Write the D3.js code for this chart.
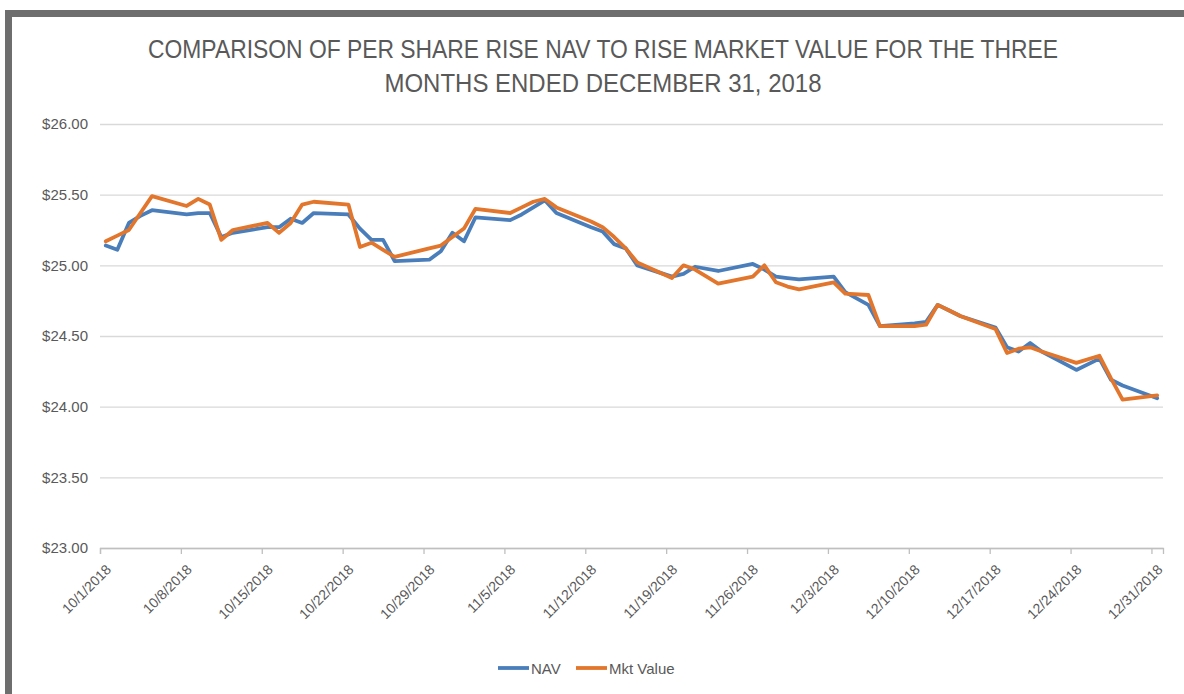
<!DOCTYPE html>
<html><head><meta charset="utf-8">
<script src="https://cdn.jsdelivr.net/npm/d3@7"></script>
<style>body{margin:0;background:#fff} svg{display:block}</style>
</head><body><svg id="c" width="1184" height="694"></svg>
<script>
const dates = [
"2018-10-01","2018-10-02","2018-10-03","2018-10-04","2018-10-05",
"2018-10-08","2018-10-09","2018-10-10","2018-10-11","2018-10-12",
"2018-10-15","2018-10-16","2018-10-17","2018-10-18","2018-10-19",
"2018-10-22","2018-10-23","2018-10-24","2018-10-25","2018-10-26",
"2018-10-29","2018-10-30","2018-10-31","2018-11-01","2018-11-02",
"2018-11-05","2018-11-06","2018-11-07","2018-11-08","2018-11-09",
"2018-11-12","2018-11-13","2018-11-14","2018-11-15","2018-11-16",
"2018-11-19","2018-11-20","2018-11-21","2018-11-23",
"2018-11-26","2018-11-27","2018-11-28","2018-11-29","2018-11-30",
"2018-12-03","2018-12-04","2018-12-06","2018-12-07",
"2018-12-10","2018-12-11","2018-12-12","2018-12-13","2018-12-14",
"2018-12-17","2018-12-18","2018-12-19","2018-12-20","2018-12-21",
"2018-12-24","2018-12-26","2018-12-27","2018-12-28","2018-12-31"];
const nav = [
25.14,25.11,25.30,25.35,25.39,
25.36,25.37,25.37,25.20,25.23,
25.27,25.27,25.33,25.30,25.37,
25.36,25.26,25.18,25.18,25.03,
25.04,25.10,25.23,25.17,25.34,
25.32,25.36,25.41,25.46,25.37,
25.27,25.24,25.15,25.12,25.00,
24.92,24.94,24.99,24.96,
25.01,24.97,24.92,24.91,24.90,
24.92,24.81,24.72,24.57,
24.59,24.60,24.72,24.68,24.64,
24.56,24.42,24.39,24.45,24.39,
24.26,24.34,24.19,24.15,24.06];
const mktValue = [
25.17,25.21,25.25,25.37,25.49,
25.42,25.47,25.43,25.18,25.25,
25.30,25.23,25.30,25.43,25.45,
25.43,25.13,25.16,25.11,25.06,
25.12,25.14,25.20,25.26,25.40,
25.37,25.41,25.45,25.47,25.41,
25.31,25.27,25.20,25.12,25.02,
24.91,25.00,24.97,24.87,
24.92,25.00,24.88,24.85,24.83,
24.88,24.80,24.79,24.57,
24.57,24.58,24.72,24.68,24.64,
24.55,24.38,24.41,24.42,24.39,
24.31,24.36,24.20,24.05,24.08];
const yTicks = [23.0, 23.5, 24.0, 24.5, 25.0, 25.5, 26.0];
const titleLines = ["COMPARISON OF PER SHARE RISE NAV TO RISE MARKET VALUE FOR THE THREE",
                    "MONTHS ENDED DECEMBER 31, 2018"];
const seriesNames = ["NAV", "Mkt Value"];
const seriesColors = ["#4a7ebb", "#e2762c"];

const svg = d3.select("#c");
const parse = d3.utcParse("%Y-%m-%d");
const pts = dates.map(parse);

// frame
svg.append("rect").attr("x",5).attr("y",10).attr("width",1179).attr("height",7).attr("fill","#6e6e6e");
svg.append("rect").attr("x",5).attr("y",10).attr("width",7).attr("height",684).attr("fill","#6e6e6e");

const x = d3.scaleUtc().domain([parse("2018-10-01"), parse("2019-01-01")]).range([100, 1163]);
const y = d3.scaleLinear().domain([23, 26]).range([548, 124]);

// title
const tf = "'Liberation Sans Narrow','Arial Narrow','Liberation Sans',Arial,sans-serif";
svg.selectAll("text.title").data(titleLines).enter().append("text")
  .attr("class","title")
  .attr("x", 603).attr("y", (d,i)=> 58 + i*34)
  .attr("text-anchor","middle")
  .attr("font-family", tf).attr("font-size", 26).attr("fill","#595959")
  .attr("textLength", (d,i)=> i===0 ? 910 : 437)
  .attr("lengthAdjust","spacingAndGlyphs")
  .text(d=>d);

// y grid + labels
const yAxis = d3.axisLeft(y).tickValues(yTicks).tickSize(-(1163-100)).tickPadding(12)
  .tickFormat(d3.format("$.2f"));
const gy = svg.append("g").attr("transform","translate(100,0)").call(yAxis);
gy.select(".domain").remove();
gy.selectAll(".tick line").attr("stroke","#d9d9d9").attr("stroke-width",1.3);
gy.selectAll(".tick text").attr("font-family","'Liberation Sans',Arial,sans-serif")
  .attr("font-size",15).attr("fill","#595959");

// x axis
const xTicks = d3.utcMonday.range(parse("2018-10-01"), parse("2019-01-01"));
const xAxis = d3.axisBottom(x).tickValues(xTicks).tickSize(6).tickFormat(d3.utcFormat("%-m/%-d/%Y"));
const gx = svg.append("g").attr("transform","translate(0,548)").call(xAxis);
gx.select(".domain").attr("stroke","#bfbfbf").attr("stroke-width",1.3);
gx.selectAll(".tick line").attr("stroke","#bfbfbf").attr("stroke-width",1.3);
gx.selectAll(".tick text")
  .attr("font-family","'Liberation Sans',Arial,sans-serif").attr("font-size",14).attr("fill","#595959")
  .attr("text-anchor","end").attr("x",0).attr("y",0).attr("dy","0.35em")
  .attr("transform","translate(8,19) rotate(-45)");

// lines (points at middle of each day)
const line = d3.line().x((d,i)=> x(d3.utcHour.offset(pts[i],12))).y(d=> y(d));
[nav, mktValue].forEach((s,k)=>{
  svg.append("path").datum(s).attr("d", line).attr("fill","none")
    .attr("stroke", seriesColors[k]).attr("stroke-width",3.8)
    .attr("stroke-linejoin","round").attr("stroke-linecap","round");
});

// legend
const legX = [498, 576];
seriesNames.forEach((n,k)=>{
  svg.append("line").attr("x1",legX[k]).attr("x2",legX[k]+31).attr("y1",668).attr("y2",668)
    .attr("stroke",seriesColors[k]).attr("stroke-width",3.8);
  svg.append("text").attr("x",legX[k]+33).attr("y",673.5)
    .attr("font-family","'Liberation Sans',Arial,sans-serif").attr("font-size",15).attr("fill","#595959")
    .text(n);
});
</script>
</body></html>
